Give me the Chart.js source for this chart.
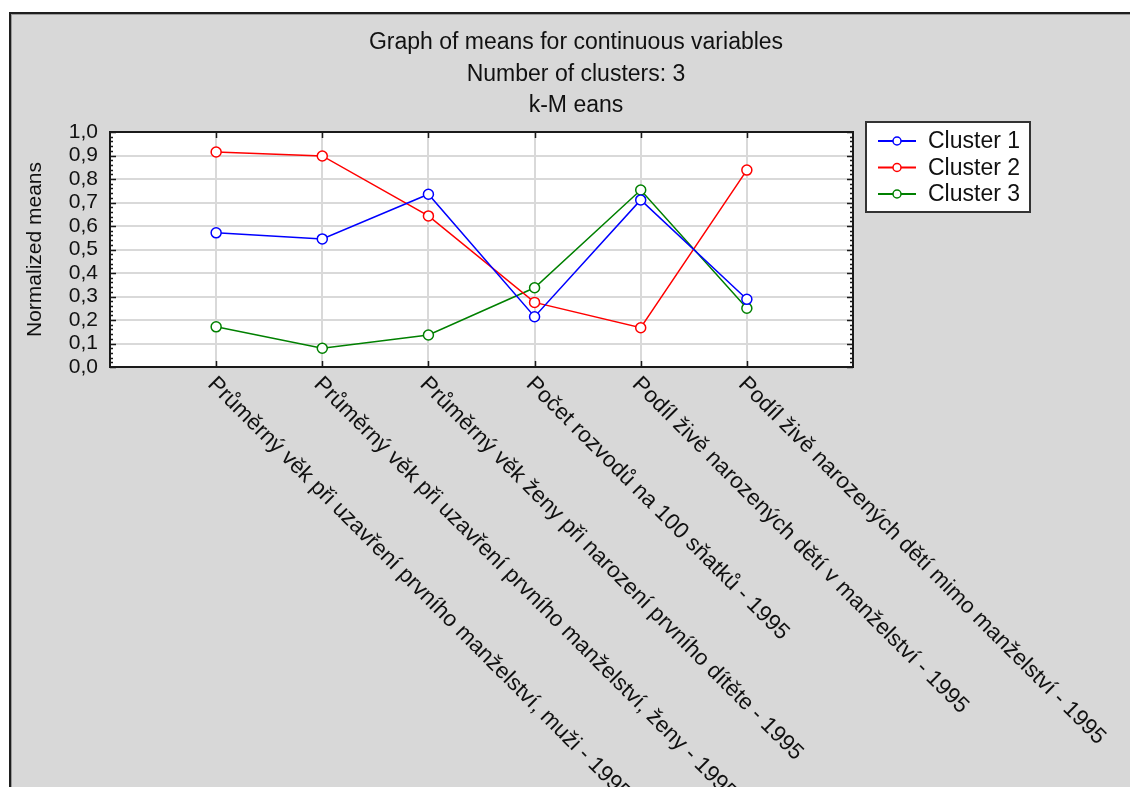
<!DOCTYPE html>
<html>
<head>
<meta charset="utf-8">
<script src="https://cdn.jsdelivr.net/npm/chart.js@4.4.1/dist/chart.umd.min.js"></script>
<style>
  html, body { margin: 0; padding: 0; background: #ffffff; width: 1130px; height: 787px; overflow: hidden; }
  #panel { position: absolute; left: 9px; top: 12px; width: 1200px; height: 800px; background: #d8d8d8;
           border-left: 2px solid #1e1e1e; border-top: 2px solid #1e1e1e; box-shadow: inset 1px 1px 0 #9a9a9a; }
  #c { position: absolute; left: 1px; top: 0px; }
</style>
</head>
<body>
<div id="panel"><canvas id="c" width="1128" height="780"></canvas></div>
<script>
// ---- data ----
const categories = [
  "Průměrný věk při uzavření prvního manželství, muži - 1995",
  "Průměrný věk při uzavření prvního manželství, ženy - 1995",
  "Průměrný věk ženy při narození prvního dítěte - 1995",
  "Počet rozvodů na 100 sňatků - 1995",
  "Podíl živě narozených dětí v manželství - 1995",
  "Podíl živě narozených dětí mimo manželství - 1995"
];
const seriesNames = ["Cluster 1", "Cluster 2", "Cluster 3"];
const cluster1 = [0.571, 0.545, 0.735, 0.214, 0.711, 0.288];
const cluster2 = [0.915, 0.898, 0.643, 0.275, 0.167, 0.838];
const cluster3 = [0.171, 0.080, 0.136, 0.337, 0.753, 0.250];
const titleLines = ["Graph of means for continuous variables", "Number of clusters: 3", "k-M eans"];
const yTitle = "Normalized means";

// ---- styles ----
const colors = ["#0000ff", "#ff0000", "#008000"];
const FONT = "'Liberation Sans', Arial, sans-serif";

const labels = [""].concat(categories).concat([""]);
const pad = arr => [null].concat(arr).concat([null]);
const seriesValues = [cluster1, cluster2, cluster3];

const datasets = seriesValues.map((vals, i) => ({
  label: seriesNames[i],
  data: pad(vals),
  borderColor: colors[i],
  backgroundColor: colors[i],
  borderWidth: 1.5,
  pointRadius: 5,
  pointHoverRadius: 5,
  pointBorderWidth: 1.5,
  pointBackgroundColor: "#ffffff",
  pointBorderColor: colors[i],
  tension: 0,
  fill: false
}));

const frame = {
  id: "frame",
  beforeDraw(chart) {
    const { ctx, chartArea: a } = chart;
    ctx.save();
    ctx.fillStyle = "#ffffff";
    ctx.fillRect(a.left, a.top, a.right - a.left, a.bottom - a.top);
    ctx.restore();
  },
  afterDatasetsDraw(chart) {
    const { ctx, chartArea: a, scales } = chart;
    const y = scales.y, x = scales.x;
    ctx.save();
    ctx.strokeStyle = "#1a1a1a";
    ctx.lineWidth = 1.5;
    for (let k = 0; k <= 50; k++) {
      const v = k / 50;
      const py = Math.round(y.getPixelForValue(v)) + 0.5;
      const len = (k % 5 === 0) ? 6 : 3;
      ctx.beginPath();
      ctx.moveTo(a.left, py); ctx.lineTo(a.left + len, py);
      ctx.moveTo(a.right, py); ctx.lineTo(a.right - len, py);
      ctx.stroke();
    }
    for (let i = 1; i <= categories.length; i++) {
      const px = Math.round(x.getPixelForValue(i)) + 0.5;
      ctx.beginPath();
      ctx.moveTo(px, a.top); ctx.lineTo(px, a.top + 6);
      ctx.moveTo(px, a.bottom); ctx.lineTo(px, a.bottom - 6);
      ctx.stroke();
    }
    ctx.lineWidth = 2;
    ctx.strokeRect(a.left, a.top, a.right - a.left, a.bottom - a.top);
    ctx.restore();
  },
  afterDraw(chart) {
    const { ctx, chartArea: a, scales } = chart;
    const x = scales.x;
    ctx.save();
    ctx.fillStyle = "#111111";
    ctx.font = "22.5px " + FONT;
    ctx.textAlign = "left";
    ctx.textBaseline = "top";
    for (let i = 1; i <= categories.length; i++) {
      const px = x.getPixelForValue(i);
      ctx.save();
      ctx.translate(px + 3, a.bottom + 6);
      ctx.rotate(Math.PI / 4);
      ctx.fillText(categories[i - 1], 0, 0);
      ctx.restore();
    }
    const lx = 854, ly = 108, lw = 164, lh = 90;
    ctx.fillStyle = "#ffffff";
    ctx.fillRect(lx, ly, lw, lh);
    ctx.strokeStyle = "#333333";
    ctx.lineWidth = 2;
    ctx.strokeRect(lx, ly, lw, lh);
    chart.data.datasets.forEach((ds, i) => {
      const cy = ly + 19 + i * 26.5;
      ctx.strokeStyle = ds.borderColor;
      ctx.lineWidth = 2;
      ctx.beginPath();
      ctx.moveTo(lx + 12, cy); ctx.lineTo(lx + 50, cy);
      ctx.stroke();
      ctx.beginPath();
      ctx.arc(lx + 31, cy, 4, 0, Math.PI * 2);
      ctx.fillStyle = "#ffffff";
      ctx.fill();
      ctx.lineWidth = 1.5;
      ctx.stroke();
      ctx.fillStyle = "#111111";
      ctx.font = "23px " + FONT;
      ctx.textAlign = "left";
      ctx.textBaseline = "middle";
      ctx.fillText(ds.label, lx + 62, cy + 1);
    });
    ctx.restore();
  }
};

new Chart(document.getElementById("c"), {
  type: "line",
  data: { labels, datasets },
  options: {
    responsive: false,
    animation: false,
    devicePixelRatio: 1,
    layout: { padding: 0 },
    plugins: {
      legend: { display: false },
      tooltip: { enabled: false },
      title: {
        display: true,
        text: titleLines,
        color: "#111111",
        font: { family: FONT, size: 23, weight: "normal", lineHeight: 31.5 / 23 },
        padding: { top: 13, bottom: 10.5 }
      }
    },
    scales: {
      x: {
        type: "category",
        offset: false,
        ticks: { display: false },
        border: { display: false },
        grid: {
          drawTicks: false,
          lineWidth: 2,
          color: c => (c.index === 0 || c.index === labels.length - 1) ? "rgba(0,0,0,0)" : "#d9d9d9"
        },
        afterFit: s => { s.height = 427; }
      },
      y: {
        min: 0, max: 1,
        ticks: {
          stepSize: 0.1,
          autoSkip: false,
          padding: 12,
          color: "#111111",
          font: { family: FONT, size: 21 },
          callback: v => Number(v).toFixed(1).replace(".", ",")
        },
        border: { display: false },
        grid: { drawTicks: false, lineWidth: 2, color: "#d9d9d9" },
        title: {
          display: true,
          text: yTitle,
          color: "#111111",
          font: { family: FONT, size: 21 },
          padding: { top: 11, bottom: 0 }
        },
        afterFit: s => { s.width = 98; }
      },
      yR: {
        position: "right",
        display: true,
        ticks: { display: false },
        border: { display: false },
        grid: { display: false, drawTicks: false },
        afterFit: s => { s.width = 287; }
      }
    }
  },
  plugins: [frame]
});
</script>
</body>
</html>
